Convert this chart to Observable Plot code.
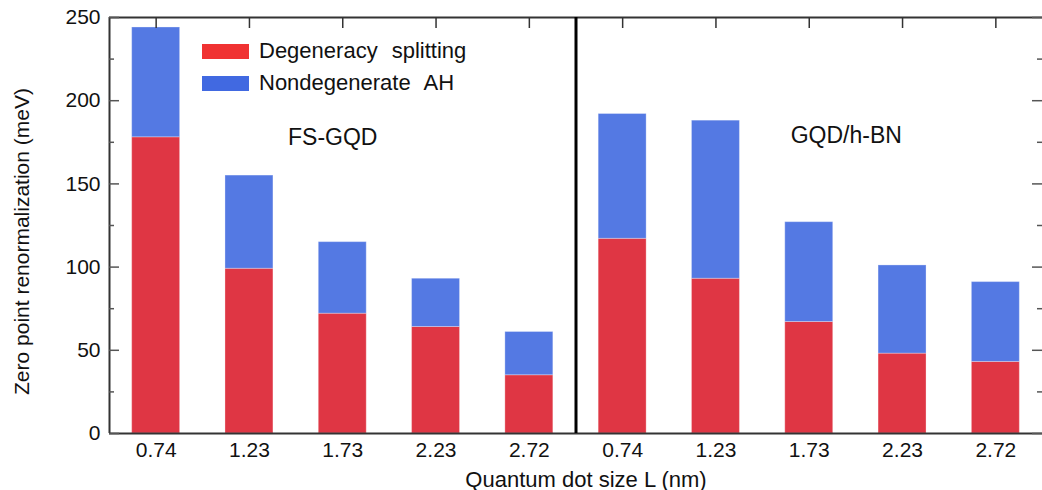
<!DOCTYPE html>
<html>
<head>
<meta charset="utf-8">
<script src="https://cdn.jsdelivr.net/npm/d3@7"></script>
<script src="https://cdn.jsdelivr.net/npm/@observablehq/plot@0.6"></script>
<style>
  html, body { margin: 0; padding: 0; background: #fff; overflow: hidden; }
  #wrap { position: relative; width: 1042px; height: 490px; font-family: "Liberation Sans", Arial, sans-serif; }
  .legend { position: absolute; left: 202px; top: 35px; font-size: 22px; color: #111; word-spacing: 8px; }
  .legend .row { display: flex; align-items: center; height: 32px; }
  .legend .sw { width: 47px; height: 15px; margin-right: 10px; }
</style>
</head>
<body>
<div id="wrap"></div>
<script>
// Quantum dot sizes (nm), shared by both systems
const sizes = ["0.74", "1.23", "1.73", "2.23", "2.72"];
const systems = ["FS-GQD", "GQD/h-BN"];
const seriesNames = ["Degeneracy splitting", "Nondegenerate AH"];

// Zero point renormalization contributions (meV)
const degeneracyFS = [178, 99, 72, 64, 35];
const nondegenerateFS = [66, 56, 43, 29, 26];
const degeneracyBN = [117, 93, 67, 48, 43];
const nondegenerateBN = [75, 95, 60, 53, 48];

const yTicks = [0, 50, 100, 150, 200, 250];
const yMinorTicks = [25, 75, 125, 175, 225];

const barColors = ["#df3644", "#5479e3"];
const legendColors = ["#f03232", "#4169e1"];

const W = 1042, H = 490;
const mL = 109, mR = 0, mT = 17, mB = 57;
const PW = W - mL - mR, PH = H - mT - mB;

// one slot per bar: system k, size j -> slot k*5 + j
const slots = [];
[[degeneracyFS, nondegenerateFS], [degeneracyBN, nondegenerateBN]].forEach(([deg, non], k) => {
  sizes.forEach((s, j) => {
    const i = k * sizes.length + j;
    slots.push({i, size: s, system: systems[k], series: seriesNames[0], y1: 0, y2: deg[j]});
    slots.push({i, size: s, system: systems[k], series: seriesNames[1], y1: deg[j], y2: deg[j] + non[j]});
  });
});
const slotIndex = d3.range(systems.length * sizes.length);
const halfBar = 0.257;
const font = "Liberation Sans, Arial, sans-serif";

const chart = Plot.plot({
  width: W, height: H,
  marginLeft: mL, marginRight: mR, marginTop: mT, marginBottom: mB,
  style: {fontFamily: font, background: "white", overflow: "visible"},
  x: {type: "linear", domain: [-0.5, slotIndex.length - 0.5], axis: null},
  y: {domain: [0, 250], axis: null},
  color: {domain: seriesNames, range: barColors},
  marks: [
    // stacked bars
    Plot.rectY(slots, {
      x1: d => d.i - halfBar, x2: d => d.i + halfBar,
      y1: "y1", y2: "y2", fill: "series",
      stroke: "white", strokeOpacity: 0.3, strokeWidth: 1
    }),
    // frame: left, bottom, top
    Plot.ruleX([-0.5], {stroke: "#333", strokeWidth: 2}),
    Plot.ruleY([0, 250], {stroke: "#333", strokeWidth: 2}),
    // inward ticks on the y axes
    Plot.tickY(yTicks, {y: d => d, insetRight: PW - 10, stroke: "#555", strokeWidth: 1.5}),
    Plot.tickY(yMinorTicks, {y: d => d, insetRight: PW - 5, stroke: "#555", strokeWidth: 1.5}),
    Plot.tickY(yTicks, {y: d => d, insetLeft: PW - 10, stroke: "#555", strokeWidth: 1.5}),
    Plot.tickY(yMinorTicks, {y: d => d, insetLeft: PW - 5, stroke: "#555", strokeWidth: 1.5}),
    // inward ticks along the top edge
    Plot.tickX(slotIndex, {x: d => d, insetBottom: PH - 11, stroke: "#333", strokeWidth: 1.5}),
    // divider between the two systems
    Plot.ruleX([sizes.length - 0.5], {stroke: "black", strokeWidth: 3}),
    // axis labels
    Plot.axisY({ticks: yTicks, tickSize: 0, tickPadding: 9, fontSize: 21, fill: "#111", label: null}),
    Plot.axisX({ticks: slotIndex, tickFormat: i => sizes[i % sizes.length], tickSize: 0, tickPadding: 9, fontSize: 21, fill: "#111", label: null}),
    Plot.text(["Quantum dot size L (nm)"], {frameAnchor: "bottom", lineAnchor: "middle", dy: 46, dx: 10, fontSize: 22, fill: "#111"}),
    Plot.text(["Zero point renormalization (meV)"], {frameAnchor: "left", textAnchor: "middle", lineAnchor: "middle", rotate: -90, dx: -87, dy: 16, fontSize: 21, fill: "#111"}),
    // system names
    Plot.text([systems[0]], {x: [2], frameAnchor: "top", lineAnchor: "middle", dy: 120, dx: -10, fontSize: 23, fill: "#111"}),
    Plot.text([systems[1]], {x: [7], frameAnchor: "top", lineAnchor: "middle", dy: 118, dx: 37, fontSize: 23, fill: "#111"})
  ]
});

const wrap = document.getElementById("wrap");
wrap.appendChild(chart);

// legend drawn inside the plot area
const legend = document.createElement("div");
legend.className = "legend";
seriesNames.forEach((name, k) => {
  const row = document.createElement("div");
  row.className = "row";
  const sw = document.createElement("div");
  sw.className = "sw";
  sw.style.background = legendColors[k];
  const label = document.createElement("span");
  label.textContent = name;
  row.appendChild(sw);
  row.appendChild(label);
  legend.appendChild(row);
});
wrap.appendChild(legend);
</script>
</body>
</html>
